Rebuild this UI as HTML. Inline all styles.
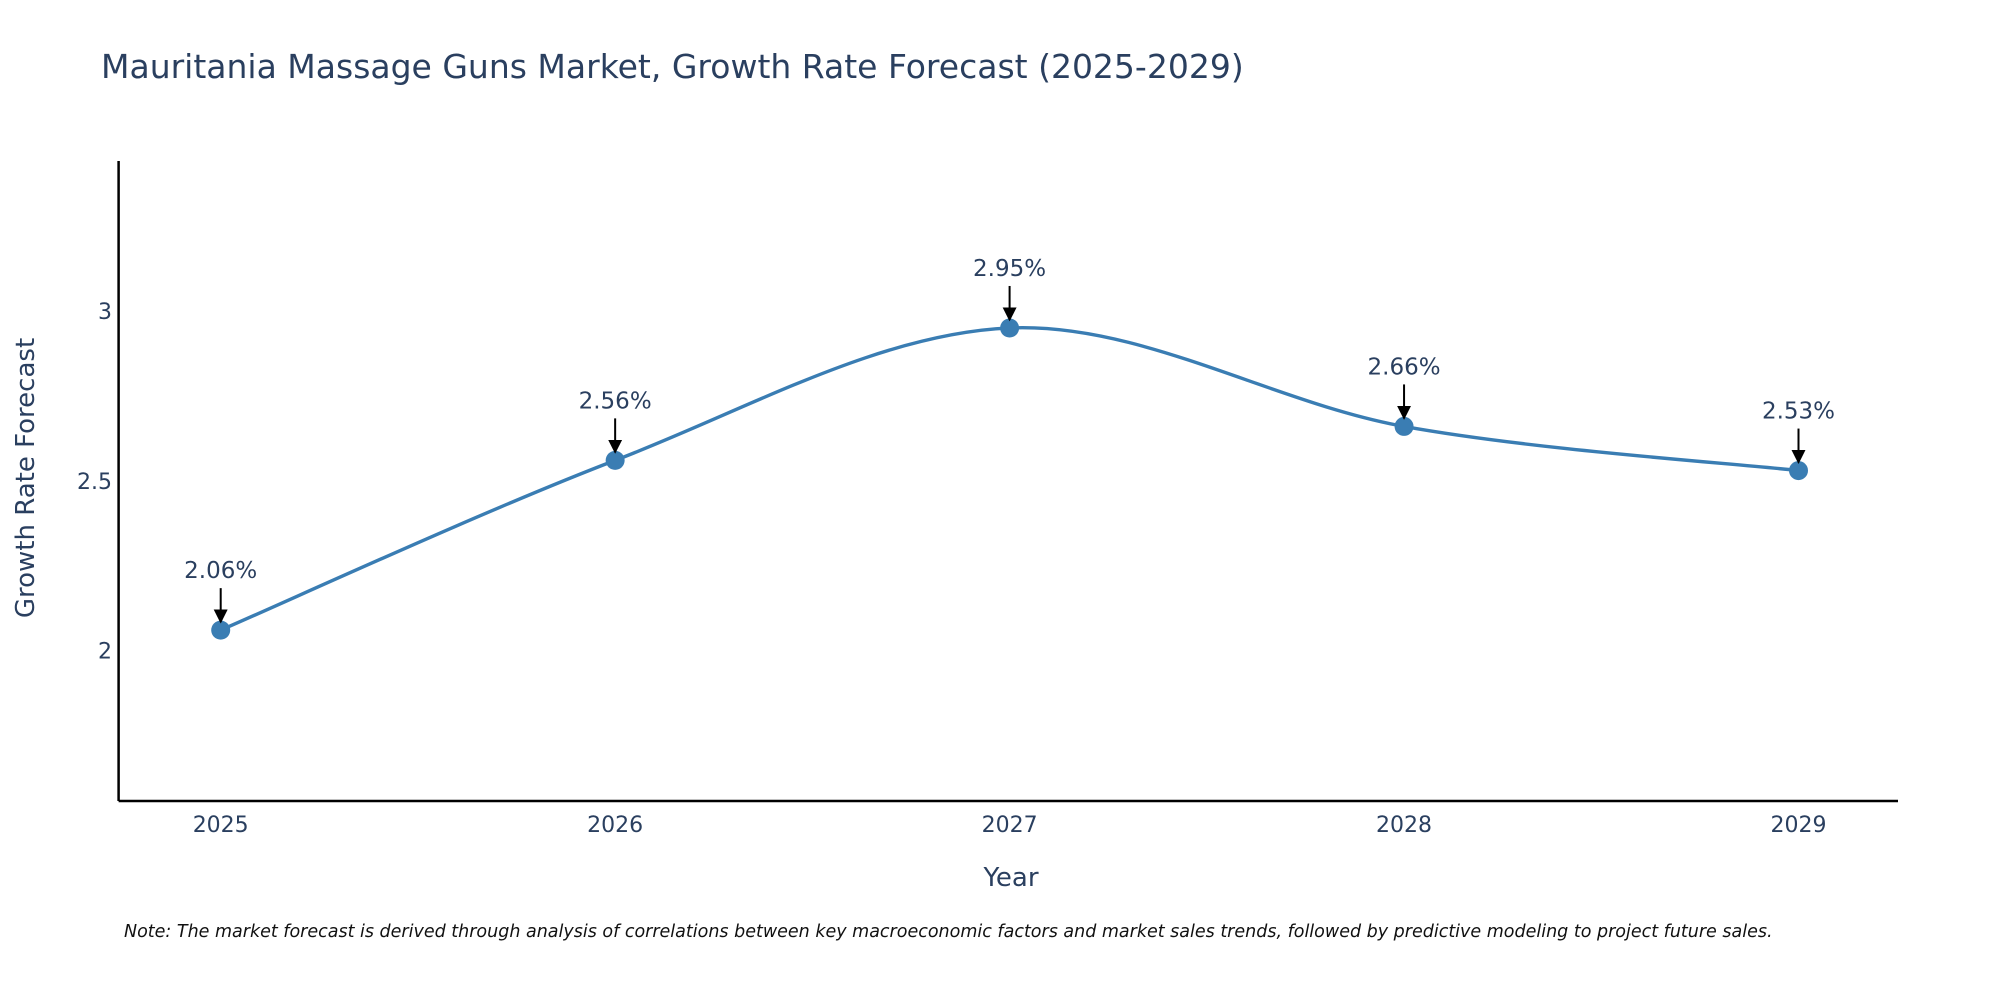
<!DOCTYPE html>
<html><head><meta charset="utf-8"><style>
body{margin:0;background:#fff;}
svg text{font-family:"DejaVu Sans","Liberation Sans",sans-serif;}
</style></head><body>
<svg id="chart" width="2000" height="1000" viewBox="0 0 2000 1000" xmlns="http://www.w3.org/2000/svg">
<rect width="2000" height="1000" fill="#fff"/>
<text x="101" y="78" font-size="33" fill="#2a3f5f">Mauritania Massage Guns Market, Growth Rate Forecast (2025-2029)</text>
<g id="axes"></g>
<g id="plot"></g>
<text x="1011" y="886" font-size="26" fill="#2a3f5f" text-anchor="middle">Year</text>
<text x="0" y="0" font-size="26" fill="#2a3f5f" text-anchor="middle" transform="translate(34,478) rotate(-90)">Growth Rate Forecast</text>
<text x="124" y="937" font-size="17.5" font-style="italic" fill="#111">Note: The market forecast is derived through analysis of correlations between key macroeconomic factors and market sales trends, followed by predictive modeling to project future sales.</text>
</svg>
<script>
const categories = ["2025","2026","2027","2028","2029"];
const values = [2.06, 2.56, 2.95, 2.66, 2.53];
const valueLabels = ["2.06%","2.56%","2.95%","2.66%","2.53%"];
const yTicks = [2, 2.5, 3];
const yTickLabels = ["2","2.5","3"];

const NS = "http://www.w3.org/2000/svg";
const x0 = 220.7, xStep = 394.45;
function xPos(i){ return x0 + i * xStep; }
function yPos(v){ return 650.5 - (v - 2) * 339.5; }
function mk(tag, attrs, parent){ const e = document.createElementNS(NS, tag); for (const k in attrs) e.setAttribute(k, attrs[k]); parent.appendChild(e); return e; }

const axes = document.getElementById('axes');
const plot = document.getElementById('plot');
const xAxisLine = mk('line', {x1:118.6, y1:801, x2:1898, y2:801, stroke:'#000', 'stroke-width':2.5}, axes);


const yAxisLine = mk('line', {x1:118.6, y1:161, x2:118.6, y2:801, stroke:'#000', 'stroke-width':2.5}, axes);



categories.forEach((c, i) => {
  const t = mk('text', {x:xPos(i), y:832, 'font-size':22, fill:'#2a3f5f', 'text-anchor':'middle'}, axes);
  t.textContent = c;
  
  
});
yTicks.forEach((v, i) => {
  const t = mk('text', {x:112, y:yPos(v) + 8, 'font-size':22, fill:'#2a3f5f', 'text-anchor':'end'}, axes);
  t.textContent = yTickLabels[i];
  
  
});

const pts = values.map((v, i) => [xPos(i), yPos(v)]);
let d = `M${pts[0][0]},${pts[0][1]}`;
const tension = 0.5;
for (let i = 0; i < pts.length - 1; i++) {
  const p0 = pts[i-1] || pts[i], p1 = pts[i], p2 = pts[i+1], p3 = pts[i+2] || pts[i+1];
  const c1 = [p1[0] + (p2[0]-p0[0])*tension/3, p1[1] + (p2[1]-p0[1])*tension/3];
  const c2 = [p2[0] - (p3[0]-p1[0])*tension/3, p2[1] - (p3[1]-p1[1])*tension/3];
  d += ` C${c1[0]},${c1[1]} ${c2[0]},${c2[1]} ${p2[0]},${p2[1]}`;
}
const line = mk('path', {d:d, fill:'none', stroke:'#3a7db3', 'stroke-width':3.4}, plot);



mk('defs', {}, plot).innerHTML = '<marker id="ah" viewBox="0 0 10 10" refX="9" refY="5" markerWidth="7" markerHeight="7" orient="auto"><path d="M0,0 L10,5 L0,10 z" fill="#000"/></marker>';

pts.forEach((p, i) => {
  const m = mk('circle', {cx:p[0], cy:p[1], r:9.5, fill:'#3a7db3'}, plot);
  
  
  const a = mk('line', {x1:p[0], y1:p[1]-42, x2:p[0], y2:p[1]-8, stroke:'#000', 'stroke-width':2, 'marker-end':'url(#ah)'}, plot);
  
  
  const t = mk('text', {x:p[0], y:p[1]-52, 'font-size':23, fill:'#2a3f5f', 'text-anchor':'middle'}, plot);
  t.textContent = valueLabels[i];
  
  
});
</script>
</body></html>
